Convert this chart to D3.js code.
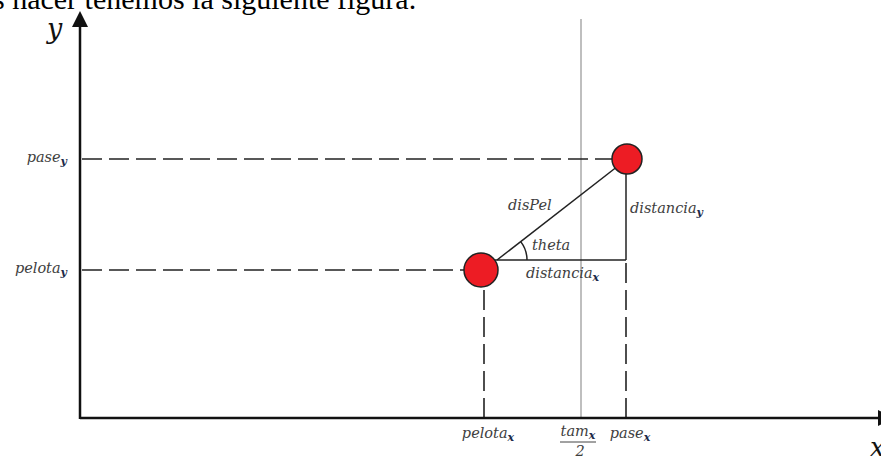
<!DOCTYPE html>
<html>
<head>
<meta charset="utf-8">
<script src="https://cdn.jsdelivr.net/npm/d3@7"></script>
<style>
  body { margin: 0; background: #fff; }
  svg { display: block; }
  .lbl { font-family: "DejaVu Serif", serif; font-style: italic; font-size: 14.5px; fill: #3e3e3e; }
  .sub { font-size: 11px; font-weight: bold; fill: #1c2b4a; }
</style>
</head>
<body>
<div id="fig"></div>
<script>
// values in figure units (origin = where the axes meet)
const pelota = { x: 401, y: 148 };
const pase = { x: 547, y: 259 };
const tamHalf = 501;
const legY = 158;      // horizontal leg of the triangle
const legX0 = 417;     // where disPel starts
const pelotaTickX = 404;

const axisLabels = [
  { text: "pelota", sub: "x", x: pelotaTickX },
  { text: "pase", sub: "x", x: pase.x - 1 }
];
const sideLabels = [
  { text: "pase", sub: "y", y: pase.y - 3 },
  { text: "pelota", sub: "y", y: pelota.y - 3 }
];

const width = 881;
const height = 460;

const x = d3.scaleLinear().domain([0, 800]).range([80, 880]);
const y = d3.scaleLinear().domain([0, 408]).range([418, 10]);

const svg = d3.select("#fig")
  .append("svg")
  .attr("width", width)
  .attr("height", height);

// sentence cut off at the top
svg.append("text")
  .attr("x", -7)
  .attr("y", 9)
  .style("font-family", "'Liberation Serif', serif")
  .style("font-size", "30px")
  .text("s hacer tenemos la siguiente figura.");

// gray tam/2 line
svg.append("line")
  .attr("x1", x(tamHalf)).attr("x2", x(tamHalf))
  .attr("y1", 19).attr("y2", y(0))
  .style("stroke", "#aaa")
  .style("stroke-width", 1.5);

// dashed guides
const dash = "20,7";
svg.append("line")
  .attr("x1", x(2)).attr("x2", x(pase.x) - 15)
  .attr("y1", y(pase.y)).attr("y2", y(pase.y))
  .style("stroke", "#222").style("stroke-width", 1.6)
  .style("stroke-dasharray", dash);
svg.append("line")
  .attr("x1", x(2)).attr("x2", x(pelota.x) - 17)
  .attr("y1", y(pelota.y)).attr("y2", y(pelota.y))
  .style("stroke", "#222").style("stroke-width", 1.6)
  .style("stroke-dasharray", dash);
svg.append("line")
  .attr("x1", x(pelotaTickX)).attr("x2", x(pelotaTickX))
  .attr("y1", y(0)).attr("y2", y(pelota.y) + 17)
  .style("stroke", "#222").style("stroke-width", 1.6)
  .style("stroke-dasharray", dash);
svg.append("line")
  .attr("x1", x(pase.x - 1)).attr("x2", x(pase.x - 1))
  .attr("y1", y(0)).attr("y2", y(legY))
  .style("stroke", "#222").style("stroke-width", 1.6)
  .style("stroke-dasharray", dash);

// triangle
const tri = svg.append("g").style("stroke", "#222").style("stroke-width", 1.5).style("fill", "none");
tri.append("line")
  .attr("x1", x(legX0)).attr("y1", y(legY))
  .attr("x2", x(pase.x)).attr("y2", y(pase.y));
tri.append("line")
  .attr("x1", x(pelota.x)).attr("y1", y(legY))
  .attr("x2", x(pase.x - 1)).attr("y2", y(legY));
tri.append("line")
  .attr("x1", x(pase.x - 1)).attr("y1", y(pase.y))
  .attr("x2", x(pase.x - 1)).attr("y2", y(legY));

// theta arc
const ang = Math.atan2(y(legY) - y(pase.y), x(pase.x) - x(legX0));
tri.append("path")
  .attr("transform", `translate(${x(legX0)},${y(legY)})`)
  .attr("d", d3.arc()({ innerRadius: 30, outerRadius: 30, startAngle: Math.PI / 2 - ang, endAngle: Math.PI / 2 }));

// balls
svg.append("circle")
  .attr("cx", x(pelota.x)).attr("cy", y(pelota.y)).attr("r", 17)
  .style("fill", "#ed1c24").style("stroke", "#222").style("stroke-width", 1.5);
svg.append("circle")
  .attr("cx", x(pase.x)).attr("cy", y(pase.y)).attr("r", 15)
  .style("fill", "#ed1c24").style("stroke", "#222").style("stroke-width", 1.5);

// axes
const ax = svg.append("g").style("stroke", "#111").style("stroke-width", 2.5);
ax.append("line").attr("x1", x(0)).attr("x2", x(0)).attr("y1", y(0) + 1).attr("y2", 24);
ax.append("line").attr("x1", x(0)).attr("x2", 880).attr("y1", y(0)).attr("y2", y(0));
svg.append("path")
  .attr("d", `M${x(0)},11 L${x(0) - 8},27 L${x(0) + 8},27 Z`)
  .style("fill", "#111");
svg.append("path")
  .attr("d", `M878,${y(0) - 8} L895,${y(0)} L878,${y(0) + 8} Z`)
  .style("fill", "#111");

svg.append("text").attr("class", "lbl")
  .attr("x", 47).attr("y", 38).style("font-size", "27px").style("fill", "#111")
  .text("y");
svg.append("text").attr("class", "lbl")
  .attr("x", 870).attr("y", 456).style("font-size", "26px").style("fill", "#111")
  .text("x");

function addLabel(t, sub, px, py, anchor) {
  const el = svg.append("text").attr("class", "lbl")
    .attr("x", px).attr("y", py).attr("text-anchor", anchor || "start");
  el.append("tspan").text(t);
  if (sub) el.append("tspan").attr("class", "sub").attr("dy", 3).text(sub);
  return el;
}

sideLabels.forEach(d => addLabel(d.text, d.sub, 67, y(d.y), "end"));
axisLabels.forEach(d => addLabel(d.text, d.sub, x(d.x) + 4, 438, "middle"));

addLabel("disPel", null, 508, 210);
addLabel("distancia", "y", 630, 213);
addLabel("theta", null, 532, 250);
addLabel("distancia", "x", 526, 278);

// tam_x / 2
addLabel("tam", "x", x(tamHalf) - 3, 436, "middle");
svg.append("line")
  .attr("x1", x(tamHalf) - 21).attr("x2", x(tamHalf) + 15)
  .attr("y1", 442).attr("y2", 442)
  .style("stroke", "#444").style("stroke-width", 1);
addLabel("2", null, x(tamHalf) - 1, 456, "middle");
</script>
</body>
</html>
